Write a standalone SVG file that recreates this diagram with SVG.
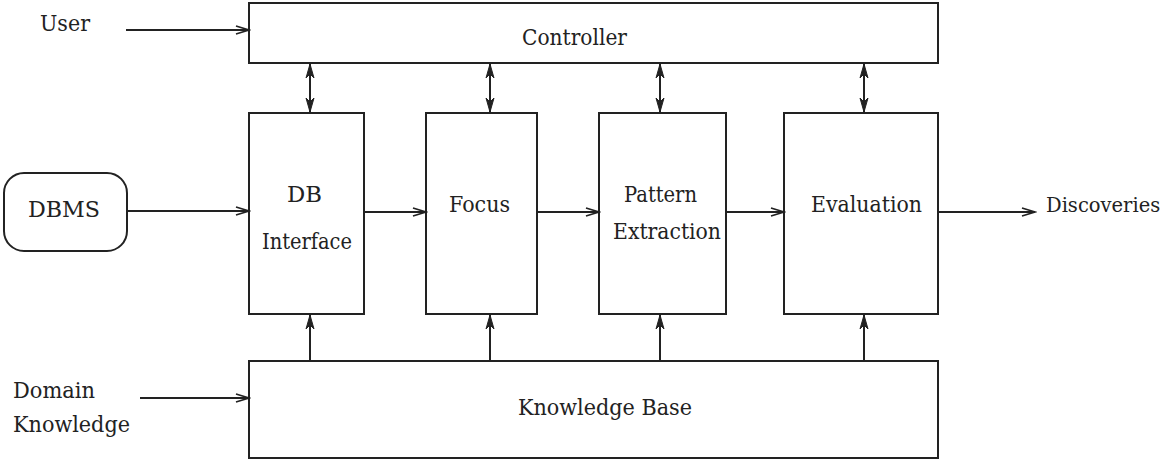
<svg xmlns="http://www.w3.org/2000/svg" width="1169" height="461" viewBox="0 0 1169 461">
<style>
.box{fill:#fff;stroke:#222;stroke-width:2}
.ln{fill:none;stroke:#222;stroke-width:2}
text{font-family:'DejaVu Serif',serif;font-size:23px;fill:#222}
text.sm{font-size:19.5px}
</style>
<defs>
<marker id="open" markerUnits="userSpaceOnUse" markerWidth="16" markerHeight="12" refX="14" refY="5" orient="auto">
<path d="M1,1 L14,5 L1,9" fill="none" stroke="#222" stroke-width="1.8"/>
</marker>
<marker id="sharp" markerUnits="userSpaceOnUse" markerWidth="16" markerHeight="12" refX="14" refY="5" orient="auto-start-reverse">
<path d="M0,1 L14,5 L0,9 L4,5 Z" fill="#222" stroke="#222" stroke-width="1"/>
</marker>
</defs>
<g id="controller"><rect class="box" x="249" y="3" width="689" height="60"/><text x="522" y="45" textLength="105" lengthAdjust="spacingAndGlyphs">Controller</text></g>
<g id="dbinterface"><rect class="box" x="249" y="113" width="115" height="201"/><text x="287" y="202" textLength="35" lengthAdjust="spacingAndGlyphs">DB</text><text x="262" y="249" textLength="90" lengthAdjust="spacingAndGlyphs">Interface</text></g>
<g id="focus"><rect class="box" x="426" y="113" width="111" height="201"/><text x="449" y="212" textLength="61" lengthAdjust="spacingAndGlyphs">Focus</text></g>
<g id="pattern"><rect class="box" x="599" y="113" width="127" height="201"/><text x="624" y="202" textLength="73" lengthAdjust="spacingAndGlyphs">Pattern</text><text x="613" y="239" textLength="108" lengthAdjust="spacingAndGlyphs">Extraction</text></g>
<g id="evaluation"><rect class="box" x="784" y="113" width="154" height="201"/><text x="811" y="212" textLength="111" lengthAdjust="spacingAndGlyphs">Evaluation</text></g>
<g id="kb"><rect class="box" x="249" y="361" width="689" height="97"/><text x="518" y="415" textLength="174" lengthAdjust="spacingAndGlyphs">Knowledge Base</text></g>
<g id="dbms"><rect class="box" x="4" y="173" width="123" height="78" rx="20"/><text x="28" y="217" textLength="72" lengthAdjust="spacingAndGlyphs">DBMS</text></g>
<g id="user"><text x="40" y="31" textLength="50" lengthAdjust="spacingAndGlyphs">User</text></g>
<g id="domain"><text x="13" y="398" textLength="82" lengthAdjust="spacingAndGlyphs">Domain</text><text x="13" y="432" textLength="117" lengthAdjust="spacingAndGlyphs">Knowledge</text></g>
<g id="discoveries"><text class="sm" x="1046" y="212">Discoveries</text></g>
<g id="connectors">
<line class="ln" x1="126" y1="30" x2="249" y2="30" marker-end="url(#open)"/>
<line class="ln" x1="127" y1="211" x2="249" y2="211" marker-end="url(#open)"/>
<line class="ln" x1="140" y1="398" x2="249" y2="398" marker-end="url(#open)"/>
<line class="ln" x1="364" y1="212" x2="426" y2="212" marker-end="url(#open)"/>
<line class="ln" x1="537" y1="212" x2="599" y2="212" marker-end="url(#open)"/>
<line class="ln" x1="726" y1="212" x2="784" y2="212" marker-end="url(#open)"/>
<line class="ln" x1="938" y1="212" x2="1035" y2="212" marker-end="url(#open)"/>
<line class="ln" x1="310" y1="64" x2="310" y2="112" marker-start="url(#sharp)" marker-end="url(#sharp)"/>
<line class="ln" x1="490" y1="64" x2="490" y2="112" marker-start="url(#sharp)" marker-end="url(#sharp)"/>
<line class="ln" x1="660" y1="64" x2="660" y2="112" marker-start="url(#sharp)" marker-end="url(#sharp)"/>
<line class="ln" x1="864" y1="64" x2="864" y2="112" marker-start="url(#sharp)" marker-end="url(#sharp)"/>
<line class="ln" x1="310" y1="361" x2="310" y2="315" marker-end="url(#sharp)"/>
<line class="ln" x1="490" y1="361" x2="490" y2="315" marker-end="url(#sharp)"/>
<line class="ln" x1="660" y1="361" x2="660" y2="315" marker-end="url(#sharp)"/>
<line class="ln" x1="864" y1="361" x2="864" y2="315" marker-end="url(#sharp)"/>
</g>
</svg>
